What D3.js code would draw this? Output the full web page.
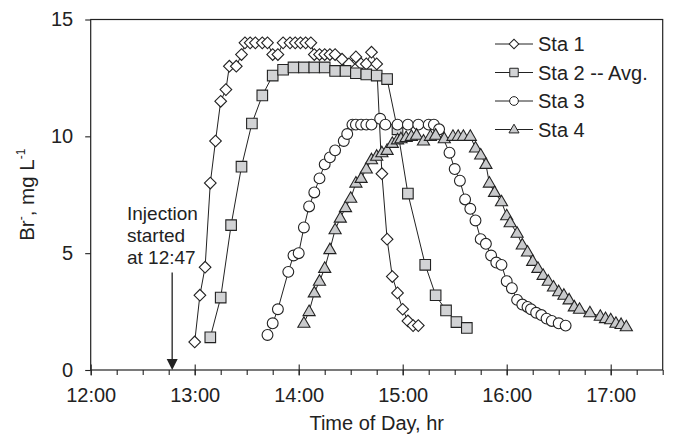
<!DOCTYPE html>
<html>
<head>
<meta charset="utf-8">
<script src="https://cdn.jsdelivr.net/npm/d3@7"></script>
<style>
  body { margin: 0; background: #fff; }
  svg text { font-family: "Liberation Sans", Arial, sans-serif; fill: #222; }
</style>
</head>
<body>
<div id="canvas"></div>
<script>
// Br- concentration at four stations
var sta1Times = ['13:00','13:03','13:06','13:09','13:12','13:15','13:18','13:20','13:24','13:27',
    '13:29','13:32','13:35','13:39','13:42','13:45','13:48','13:51','13:55','13:58',
    '14:01','14:04','14:07','14:09','14:12','14:15','14:18','14:21','14:25','14:29',
    '14:33','14:36','14:39','14:42','14:45','14:48','14:51','14:54','14:57','15:00',
    '15:03','15:06','15:09'];
var sta1Values = [1.2,3.2,4.4,8.0,9.8,11.5,12.0,13.0,13.0,13.5,
    14,14,14,14,14,13.5,13.5,14,14,14,
    14,14,14,13.5,13.5,13.5,13.5,13.5,13.3,13.1,
    13.4,13.1,13.1,13.6,13.1,8.4,5.6,4.0,3.3,2.6,
    2.1,1.9,1.9];

var sta2Times = ['13:09','13:15','13:21','13:27','13:33','13:39','13:45','13:51','13:57','14:03',
    '14:09','14:15','14:21','14:27','14:33','14:39','14:45','14:51','14:57','15:03',
    '15:13','15:19','15:25','15:31','15:37'];
var sta2Values = [1.4,3.1,6.2,8.7,10.55,11.75,12.6,12.85,12.95,12.95,
    12.95,12.95,12.8,12.8,12.7,12.65,12.6,12.45,10.3,7.55,
    4.5,3.2,2.55,2.05,1.8];

var sta3Times = ['13:42','13:45','13:48','13:54','13:57','14:00','14:03','14:06','14:09','14:12',
    '14:15','14:18','14:21','14:26','14:28','14:31','14:33','14:36','14:39','14:42',
    '14:47','14:50','14:57','15:03','15:09','15:15','15:18','15:21','15:27','15:30',
    '15:33','15:36','15:39','15:42','15:45','15:48','15:51','15:54','15:57','16:00',
    '16:03','16:06','16:09','16:12','16:14','16:17','16:20','16:23','16:26','16:30',
    '16:34'];
var sta3Values = [1.5,2.0,2.6,4.2,4.9,5.0,6.1,7.0,7.6,8.2,
    8.8,9.1,9.4,9.8,10.1,10.5,10.5,10.5,10.5,10.5,
    10.75,10.5,10.5,10.5,10.5,10.5,10.5,10.3,9.3,8.6,
    8.1,7.3,6.9,6.4,5.6,5.4,4.9,4.6,4.5,3.8,
    3.5,3.0,2.8,2.7,2.6,2.45,2.35,2.2,2.1,2.0,
    1.9];

var sta4Times = ['14:03','14:06','14:09','14:12','14:15','14:18','14:21','14:24','14:27','14:30',
    '14:33','14:36','14:39','14:42','14:45','14:48','14:51','14:54','14:57','14:59',
    '15:02','15:05','15:08','15:12','15:16','15:19','15:24','15:29','15:32','15:35',
    '15:39','15:42','15:45','15:48','15:50','15:53','15:57','16:00','16:02','16:06',
    '16:09','16:12','16:15','16:18','16:21','16:24','16:27','16:30','16:33','16:36',
    '16:39','16:42','16:48','16:54','16:57','17:00','17:03','17:06','17:09'];
var sta4Values = [2.0,2.5,3.3,3.8,4.35,5.15,6.0,6.5,6.95,7.35,
    8.0,8.2,8.6,9.0,9.15,9.3,9.4,9.7,9.85,9.9,
    9.95,10.0,10.05,9.8,10.0,10.05,9.9,10.0,10.0,10.0,
    10.0,9.5,9.2,8.8,8.0,7.6,7.2,6.6,6.3,5.85,
    5.35,5.05,4.65,4.35,4.05,3.8,3.55,3.35,3.2,3.0,
    2.7,2.6,2.45,2.3,2.2,2.15,2.0,1.95,1.85];

var seriesNames = ['Sta 1','Sta 2 -- Avg.','Sta 3','Sta 4'];
var yTicks = [0,5,10,15];
var xStart = '12:00', xEnd = '17:30';
var injectionTime = '12:47';
var injectionLines = ['Injection','started','at 12:47'];

var W = 673, H = 444;
var m = {t:19.5, r:10.3, b:74, l:90.7};
var w = W - m.l - m.r, h = H - m.t - m.b;

var parse = d3.timeParse('%H:%M');

var series = [
    {name:seriesNames[0], times:sta1Times, values:sta1Values, sym:'diamond', fill:'#fff'},
    {name:seriesNames[1], times:sta2Times, values:sta2Values, sym:'square', fill:'#d2d3d5'},
    {name:seriesNames[2], times:sta3Times, values:sta3Values, sym:'circle', fill:'#fff'},
    {name:seriesNames[3], times:sta4Times, values:sta4Values, sym:'triangle', fill:'#c9cacc'}
];
series.forEach(function(s){
    s.points = s.times.map(function(t,i){ return {t:parse(t), v:s.values[i]}; });
});

var svg = d3.select('#canvas').append('svg')
    .attr('width', W).attr('height', H);
var plot = svg.append('g').attr('transform','translate('+m.l+','+m.t+')');

var x = d3.scaleTime().domain([parse(xStart), parse(xEnd)]).range([0, w]);
var y = d3.scaleLinear().domain([0, 15]).range([h, 0]);

//axes
var minor = plot.append('g').attr('transform','translate(0,'+h+')')
    .call(d3.axisBottom(x).ticks(d3.timeMinute.every(15)).tickSize(5).tickFormat(''));
minor.select('.domain').remove();

var major = plot.append('g').attr('transform','translate(0,'+h+')')
    .call(d3.axisBottom(x).ticks(d3.timeHour.every(1)).tickSize(5.5).tickPadding(12)
        .tickFormat(d3.timeFormat('%H:%M')));
major.select('.domain').remove();
major.selectAll('.tick line').attr('y1', -5.5);

var yAxis = plot.append('g')
    .call(d3.axisLeft(y).tickValues(yTicks).tickSize(5.5).tickPadding(12));
yAxis.select('.domain').remove();

plot.selectAll('.tick line').style('stroke','#222').style('stroke-width',1.1);
plot.selectAll('.tick text').style('font-size','20px').style('fill','#222');

plot.append('rect').attr('x',0).attr('y',0).attr('width',w).attr('height',h)
    .style('fill','none').style('stroke','#222').style('stroke-width',1.2);

//titles
svg.append('text').attr('x', m.l + w/2).attr('y', 430)
    .attr('text-anchor','middle').style('font-size','20px')
    .text('Time of Day, hr');

var yt = svg.append('text')
    .attr('transform','translate(34,'+(m.t + h/2)+') rotate(-90)')
    .attr('text-anchor','middle').style('font-size','20.5px');
yt.append('tspan').text('Br');
yt.append('tspan').attr('dy',-9).style('font-size','12px').text('-');
yt.append('tspan').attr('dy',9).text(', mg L');
yt.append('tspan').attr('dy',-9).style('font-size','12px').text('-1');

//series
var symbols = {
    diamond: d3.symbol().type(d3.symbolSquare).size(68),
    square: d3.symbol().type(d3.symbolSquare).size(112),
    circle: d3.symbol().type(d3.symbolCircle).size(92),
    triangle: d3.symbol().type(d3.symbolTriangle).size(64)
};
function symTransform(s, px, py){
    return 'translate('+px+','+py+')' + (s.sym === 'diamond' ? ' rotate(45)' : '') +
        (s.sym === 'triangle' ? ' translate(0,0.5)' : '');
}

var line = d3.line().x(function(d){return x(d.t)}).y(function(d){return y(d.v)});

series.forEach(function(s){
    var g = plot.append('g').attr('class','series');
    g.append('path').datum(s.points).attr('d', line)
        .style('fill','none').style('stroke','#222').style('stroke-width',1);
    g.selectAll('.mark').data(s.points).enter()
        .append('path').attr('class','mark')
        .attr('d', symbols[s.sym]())
        .attr('transform', function(d){ return symTransform(s, x(d.t), y(d.v)); })
        .style('fill', s.fill).style('stroke','#222').style('stroke-width',1.1);
});

//injection annotation
var ax = x(parse(injectionTime));
plot.append('line').attr('x1',ax).attr('x2',ax).attr('y1',253).attr('y2',h-9)
    .style('stroke','#222').style('stroke-width',1.3);
plot.append('path').attr('d','M'+(ax-5.5)+','+(h-11)+'L'+(ax+5.5)+','+(h-11)+'L'+ax+','+h+'Z')
    .style('fill','#222');
var note = plot.append('text').attr('x', 127 - m.l).attr('y', 220 - m.t)
    .style('font-size','19px');
injectionLines.forEach(function(t,i){
    note.append('tspan').attr('x', 127 - m.l).attr('dy', i === 0 ? 0 : 22).text(t);
});

//legend
var legend = svg.append('g').attr('transform','translate(495,44)');
var items = legend.selectAll('.item').data(series).enter()
    .append('g').attr('class','item')
    .attr('transform', function(d,i){ return 'translate(0,'+(i*28.5)+')'; });
items.append('line').attr('x1',0).attr('x2',38).attr('y1',0).attr('y2',0)
    .style('stroke','#222').style('stroke-width',1);
items.append('path')
    .attr('d', function(d){
        var sz = {diamond:46, square:72, circle:60, triangle:44}[d.sym];
        return d3.symbol().type(d.sym === 'circle' ? d3.symbolCircle :
            d.sym === 'triangle' ? d3.symbolTriangle : d3.symbolSquare).size(sz)();
    })
    .attr('transform', function(d){ return symTransform(d, 19, 0); })
    .style('fill', function(d){ return d.fill; })
    .style('stroke','#222').style('stroke-width',1);
items.append('text').attr('x',43).attr('y',7)
    .style('font-size','20px')
    .text(function(d){ return d.name; });
</script>
</body>
</html>
